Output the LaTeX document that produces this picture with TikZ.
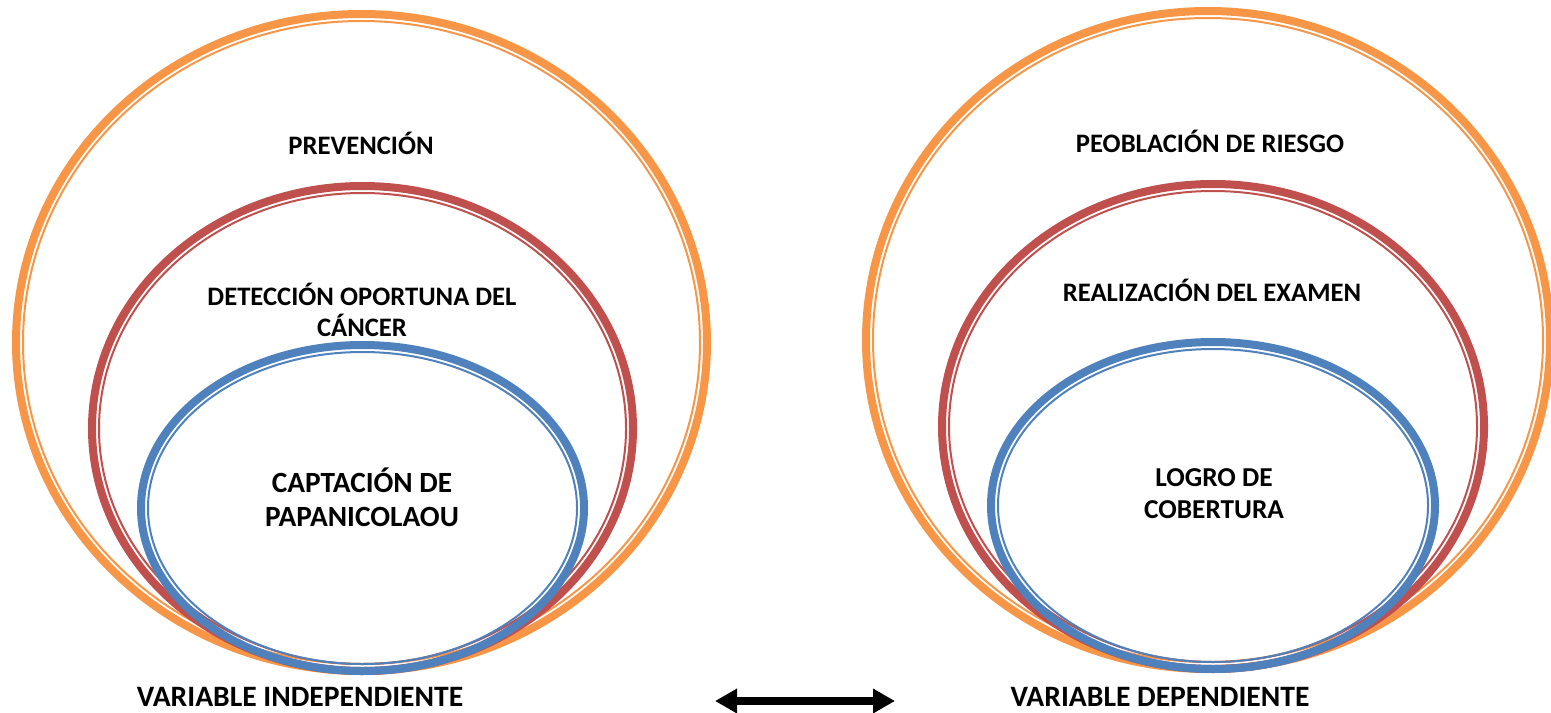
\documentclass[tikz,border=0pt]{standalone}
\usepackage{fontspec}
\setmainfont{Carlito}
\usetikzlibrary{arrows.meta}
\definecolor{cOrange}{HTML}{F79646}
\definecolor{cRed}{HTML}{C0504D}
\definecolor{cBlue}{HTML}{4F81BD}
\tikzset{
  thickring/.style={line width=6pt},
  thinring/.style={line width=1.5pt},
  lbl/.style={font=\bfseries\fontsize{20}{23.25}\selectfont, align=center, inner sep=0pt, text=black},
  lblbig/.style={font=\bfseries\fontsize{22}{25.5}\selectfont, align=center, inner sep=0pt, text=black},
  lblmid/.style={font=\bfseries\fontsize{20.5}{24}\selectfont, align=center, inner sep=0pt, text=black},
  varlbl/.style={font=\bfseries\fontsize{22.2}{26}\selectfont, inner sep=0pt, text=black},
}
% ring: color, cx, cy, RX, RY (outer bbox half-sizes, px)
\newcommand{\myring}[5]{%
  \draw[#1, thickring] (#2,#3) ellipse [x radius={#4-4}, y radius={#5-4}];
  \draw[#1, thinring] (#2,#3) ellipse [x radius={#4-11}, y radius={#5-11}];
}
\begin{document}
\begin{tikzpicture}[x=0.75pt, y=-0.75pt]
\useasboundingbox (0,0) rectangle (1551,713);
% left set
\myring{cOrange}{361.5}{342.5}{349.5}{332.5}
\myring{cRed}{362.5}{428.5}{274.5}{246.5}
\myring{cBlue}{362.5}{508}{225.5}{167}
% right set
\myring{cOrange}{1208}{340}{346}{333}
\myring{cRed}{1213}{426.5}{275}{246.5}
\myring{cBlue}{1213}{505.5}{226}{167.5}

\node[lbl] (prev) at (361,143) {PREVENCIÓN};
\node[lbl] (det) at (362,309.5) {DETECCIÓN OPORTUNA DEL\\CÁNCER};
\node[lblbig] (capt) at (362,497) {CAPTACIÓN DE\\PAPANICOLAOU};
\node[lbl] (pob) at (1210,141) {PEOBLACIÓN DE RIESGO};
\node[lbl] (real) at (1212,290) {REALIZACIÓN DEL EXAMEN};
\node[lblmid] (logro) at (1214,494) {LOGRO DE\\COBERTURA};
\node[varlbl] (vi) at (300,697) {VARIABLE INDEPENDIENTE};
\node[varlbl] (vd) at (1160,697) {VARIABLE DEPENDIENTE};

\coordinate (aL) at (715,701);
\coordinate (aR) at (895,701);
\draw[line width=6pt, {Triangle[length=16.5pt,width=17.5pt]}-{Triangle[length=16.5pt,width=17.5pt]}] (aL) -- (aR);
\end{tikzpicture}
\end{document}
